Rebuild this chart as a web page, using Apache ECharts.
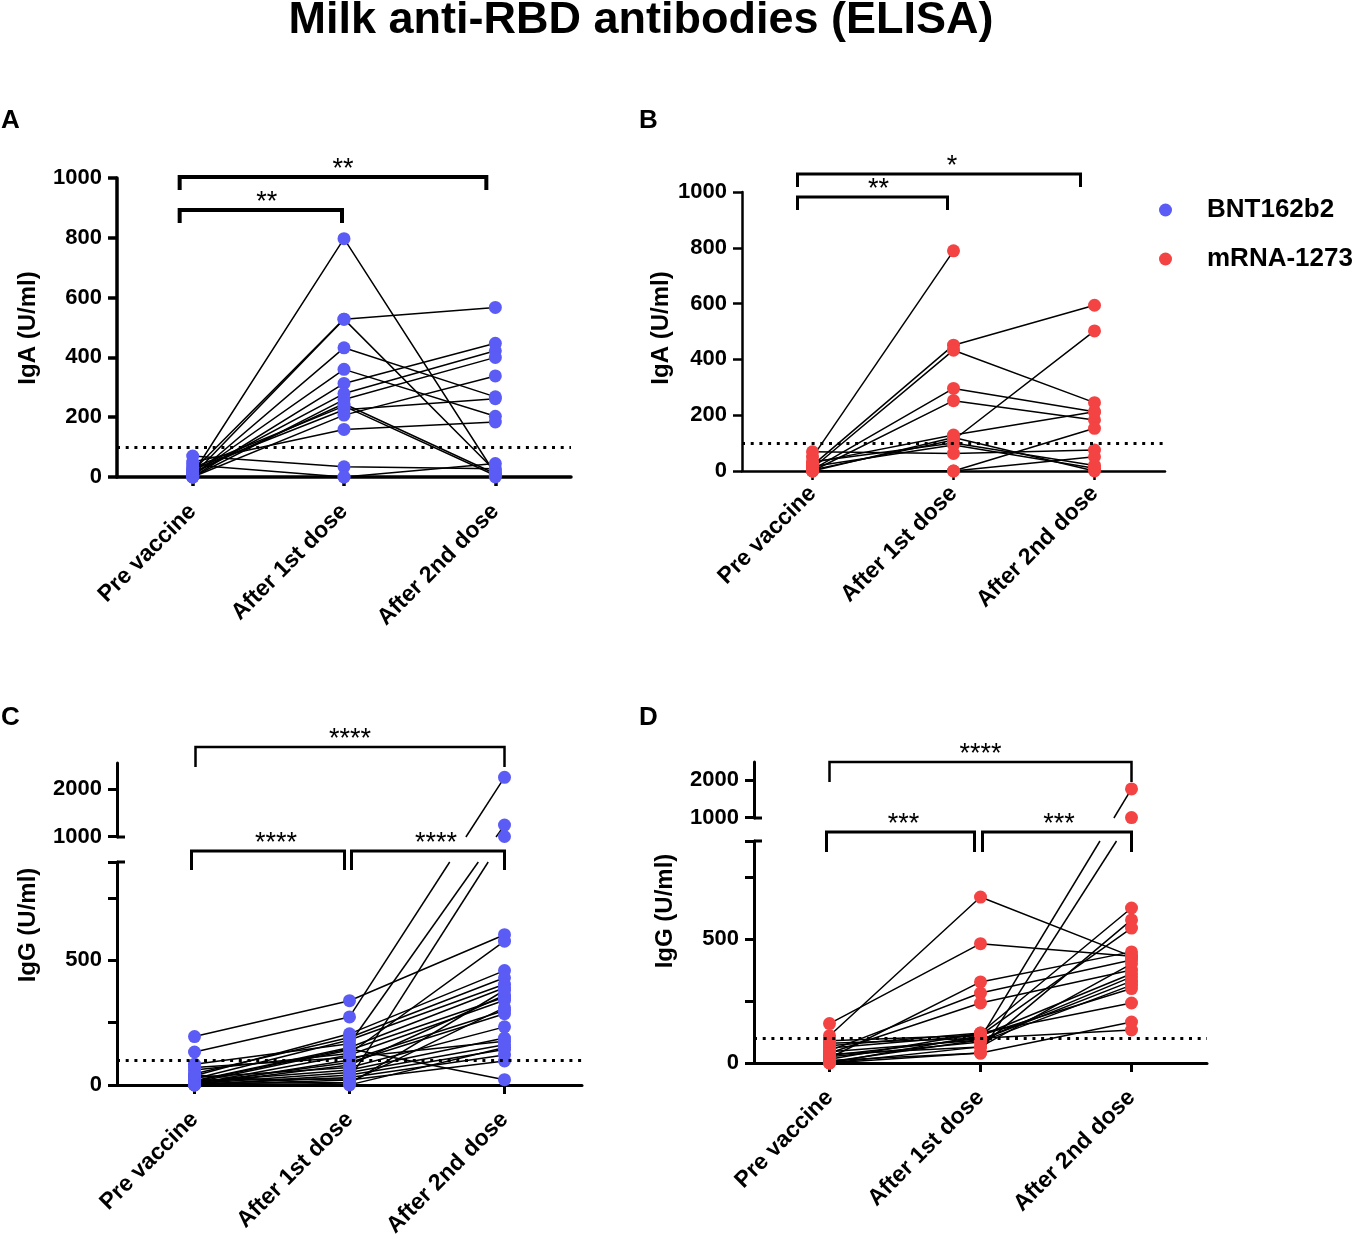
<!DOCTYPE html>
<html><head><meta charset="utf-8">
<script src="https://cdn.jsdelivr.net/npm/echarts@6/dist/echarts.min.js"></script>
<style>html,body{margin:0;padding:0;background:#fff}#c{width:1357px;height:1240px}</style>
</head><body><div id="c"></div>
<script>
// ---------------- data ----------------
const categories = ['Pre vaccine', 'After 1st dose', 'After 2nd dose'];
const seriesNames = ['BNT162b2', 'mRNA-1273'];
const limitValue = 100;
const igaTicks = [0, 200, 400, 600, 800, 1000];
const iggLowerTicks = [0, 250, 500, 750];
const iggLowerLabels = [0, 500];
const iggUpperTicks = [1000, 2000];

// each row = one participant: [Pre vaccine, After 1st dose, After 2nd dose]  (U/ml)
const igaBNT = [
  [10, 797, 10], [20, 528, 567], [5, 528, 20], [0, 432, 268], [5, 360, 203],
  [0, 313, 447], [10, 279, 422], [0, 259, 400], [30, 237, 5], [0, 207, 338],
  [50, 159, 184], [70, 34, 28], [0, 0, 0], [40, 0, 45], [25, 225, 262], [15, 245, 11]
];
const igaMRNA = [
  [50, 789, null], [20, 451, 594], [10, 433, 245], [5, 296, 212], [0, 252, 183],
  [4, 111, 502], [30, 129, 212], [0, 120, 0], [16, 93, 10], [69, 63, 75],
  [0, 0, 51], [0, 0, 153], [33, 100, 20]
];
const iggBNT = [
  [194, 338, 603], [132, 273, 2240], [83, 165, 1240], [20, 24, 1000], [60, 126, 577],
  [37, 205, 459], [45, 190, 430], [25, 180, 404], [17, 150, 390], [10, 140, 352],
  [4, 120, 340], [0, 100, 299], [8, 90, 286], [2, 80, 360], [30, 70, 233],
  [12, 60, 188], [5, 50, 161], [0, 40, 142], [3, 30, 120], [0, 20, 96],
  [15, 145, 21], [6, 10, 310], [0, 5, 380], [70, 110, 175], [40, 0, 150]
];
const iggMRNA = [
  [110, 669, 430], [159, 481, 430], [30, 100, 1760], [10, 40, 1000], [20, 327, 448],
  [50, 282, 415], [40, 242, 375], [15, 121, 625], [0, 65, 577], [60, 112, 544],
  [5, 93, 347], [80, 100, 133], [0, 40, 165], [25, 85, 314], [70, 121, 242],
  [35, 65, 400], [0, 110, 360], [45, 93, 330], [90, 112, 300]
];

// ---------------- styling / layout ----------------
const FONT = '"Liberation Sans", Arial, Helvetica, sans-serif';
const BLUE = '#5b5bf5';
const RED = '#f44343';
const LOWER_MAX = 895;
const UPPER_C = [990, 2540];
const UPPER_D = [990, 2474];

const grids = [
  {left: 117, top: 178, width: 454, height: 299},
  {left: 742, top: 192, width: 423, height: 279},
  {left: 117, top: 862, width: 465, height: 227},
  {left: 117, top: 763, width: 465, height: 74},
  {left: 754, top: 841, width: 453, height: 222},
  {left: 754, top: 762, width: 453, height: 56}
];

function xAx(i, show, w, margin) {
  return {
    type: 'category', gridIndex: i, data: categories, show: show, boundaryGap: true,
    axisLine: {show: true, onZero: false, lineStyle: {color: '#000', width: w}},
    axisTick: {show: true, alignWithLabel: true, length: 9, lineStyle: {color: '#000', width: w}},
    axisLabel: {show: true, rotate: 45, margin: margin, interval: 0, color: '#000', fontSize: 23, fontWeight: 'bold', fontFamily: FONT},
    splitLine: {show: false}
  };
}
function yAx(i, min, max, w, ticks, labels) {
  return {
    type: 'value', gridIndex: i, min: min, max: max,
    axisLine: {show: true, lineStyle: {color: '#000', width: w}},
    axisTick: {show: true, length: 9, lineStyle: {color: '#000', width: w}, customValues: ticks},
    axisLabel: {color: '#000', fontSize: 22, fontWeight: 'bold', fontFamily: FONT, margin: 15,
      customValues: labels, formatter: v => String(v)},
    splitLine: {show: false}
  };
}

const xAxis = [xAx(0, true, 3.5, 31), xAx(1, true, 2.5, 19), xAx(2, true, 3, 31), xAx(3, false, 3, 31), xAx(4, true, 3, 31), xAx(5, false, 3, 31)];
const yAxis = [
  yAx(0, 0, 1000, 3.5, igaTicks, igaTicks),
  yAx(1, 0, 1000, 2.5, igaTicks, igaTicks),
  yAx(2, 0, LOWER_MAX, 3, iggLowerTicks.concat([LOWER_MAX]), iggLowerLabels),
  yAx(3, UPPER_C[0], UPPER_C[1], 3, iggUpperTicks, iggUpperTicks),
  yAx(4, 0, LOWER_MAX, 3, iggLowerTicks.concat([LOWER_MAX]), iggLowerLabels),
  yAx(5, UPPER_D[0], UPPER_D[1], 3, iggUpperTicks, iggUpperTicks)
];

const series = [];
function addPanel(rows, gLow, gUp, color, name) {
  rows.forEach(r => series.push({
    type: 'line', xAxisIndex: gLow, yAxisIndex: gLow, silent: true, z: 2,
    data: r.map(v => (v == null || (gUp != null && v > LOWER_MAX)) ? null : v),
    symbol: 'none', connectNulls: false, lineStyle: {color: '#000', width: 1.5}
  }));
  const low = [], up = [];
  rows.forEach(r => r.forEach((v, j) => {
    if (v == null) return;
    if (gUp != null && v > LOWER_MAX) up.push([j, v]); else low.push([j, v]);
  }));
  series.push({
    type: 'scatter', name: name, xAxisIndex: gLow, yAxisIndex: gLow, data: low, z: 3,
    symbolSize: 13, itemStyle: {color: color, opacity: 1}, silent: true,
    markLine: {silent: true, symbol: 'none', label: {show: false}, animation: false,
      lineStyle: {type: [3, 5.7], color: '#000', width: 3}, data: [{yAxis: limitValue}]}
  });
  if (gUp != null) series.push({
    type: 'scatter', name: name, xAxisIndex: gUp, yAxisIndex: gUp, data: up, z: 3,
    symbolSize: 13, itemStyle: {color: color, opacity: 1}, silent: true
  });
}
addPanel(igaBNT, 0, null, BLUE, seriesNames[0]);
addPanel(igaMRNA, 1, null, RED, seriesNames[1]);
addPanel(iggBNT, 2, 3, BLUE, seriesNames[0]);
addPanel(iggMRNA, 4, 5, RED, seriesNames[1]);

const chart = echarts.init(document.getElementById('c'));
chart.setOption({
  animation: false,
  backgroundColor: '#fff',
  grid: grids,
  xAxis: xAxis,
  yAxis: yAxis,
  legend: {
    data: seriesNames, orient: 'vertical', left: 1159, top: 195, padding: 0, icon: 'circle',
    itemWidth: 13, itemHeight: 13, itemGap: 19, selectedMode: false,
    textStyle: {fontSize: 26, fontWeight: 'bold', fontFamily: FONT, color: '#000', lineHeight: 30, padding: [0, 0, 0, 30]}
  },
  series: series
});

// ---------------- annotations ----------------
const g = [];
function txt(text, x, y, size, weight, align, vAlign, rot) {
  g.push({type: 'text', x: x, y: y, rotation: rot || 0, z: 10, silent: true,
    style: {text: text, fill: '#000', font: `${weight} ${size}px ${FONT}`,
      textAlign: align, textVerticalAlign: vAlign, align: align, verticalAlign: vAlign}});
}
txt('Milk anti-RBD antibodies (ELISA)', 641, 21, 45, 'bold', 'center', 'middle');
txt('A', 1, 121, 26, 'bold', 'left', 'middle');
txt('B', 639, 121, 26, 'bold', 'left', 'middle');
txt('C', 1, 718, 26, 'bold', 'left', 'middle');
txt('D', 639, 718, 26, 'bold', 'left', 'middle');
txt('IgA (U/ml)', 28, 328, 24, 'bold', 'center', 'middle', Math.PI / 2);
txt('IgA (U/ml)', 661, 328, 24, 'bold', 'center', 'middle', Math.PI / 2);
txt('IgG (U/ml)', 28, 925, 24, 'bold', 'center', 'middle', Math.PI / 2);
txt('IgG (U/ml)', 665, 911, 24, 'bold', 'center', 'middle', Math.PI / 2);

function px(gi, cat, val) { return chart.convertToPixel({xAxisIndex: gi, yAxisIndex: gi}, [cat, val]); }

// significance brackets: [grid, fromCat, toCat, dxFrom, dxTo, topY, legHeight, lineWidth, stars, textDx]
const brackets = [
  [0, 0, 1, -13, -2, 210, 13, 4, '**', 6],
  [0, 0, 2, -13, -9, 177, 13, 4, '**', 10],
  [1, 0, 1, -15, -6, 197, 13, 3, '**', 6],
  [1, 0, 2, -15, -14, 174, 13, 3, '*', 13],
  [2, 0, 2, 1, 0, 747, 20, 2.5, '****', 0],
  [2, 0, 1, -3, -5, 851, 19, 3, '****', 8],
  [2, 1, 2, 2, 0, 851, 19, 3, '****', 8],
  [4, 0, 2, 0, 0, 762, 20, 2.5, '****', 0],
  [4, 0, 1, -3, -6, 832, 20, 3, '***', 3],
  [4, 1, 2, 2, 0, 832, 20, 3, '***', 2]
];
brackets.forEach(b => {
  const x1 = px(b[0], b[1], 0)[0] + b[3];
  const x2 = px(b[0], b[2], 0)[0] + b[4];
  const y = b[5], h = b[6];
  g.push({type: 'polyline', z: 10, silent: true,
    shape: {points: [[x1, y + h], [x1, y], [x2, y], [x2, y + h]]},
    style: {stroke: '#000', lineWidth: b[7], fill: null, lineJoin: 'miter'}});
  txt(b[8], (x1 + x2) / 2 + b[9], y - 7, 27, 'normal', 'center', 'middle');
});

// segments crossing the axis break (lower scale -> upper scale)
function crossing(rows, gLow, gUp, upMin) {
  const yTop = px(gLow, 0, LOWER_MAX)[1];
  const yBot = px(gUp, 0, upMin)[1];
  rows.forEach(r => {
    for (let j = 1; j < r.length; j++) {
      const a = r[j - 1], b = r[j];
      if (a == null || b == null) continue;
      if ((a > LOWER_MAX) === (b > LOWER_MAX)) continue;
      const p1 = px(gLow, j - 1, a), p2 = px(gUp, j, b);
      const t1 = (p1[1] - yTop) / (p1[1] - p2[1]);
      const t2 = (p1[1] - yBot) / (p1[1] - p2[1]);
      const lerp = t => [p1[0] + (p2[0] - p1[0]) * t, p1[1] + (p2[1] - p1[1]) * t];
      const q1 = lerp(t1), q2 = lerp(t2);
      [[p1, q1], [q2, p2]].forEach(s => g.push({type: 'line', z: 2, silent: true,
        shape: {x1: s[0][0], y1: s[0][1], x2: s[1][0], y2: s[1][1]},
        style: {stroke: '#000', lineWidth: 1.5}}));
    }
  });
  // break marks extending right of the axis
  const ax = px(gLow, 0, 0)[0] - (px(gLow, 1, 0)[0] - px(gLow, 0, 0)[0]) / 2;
  [yTop, yBot].forEach(y => g.push({type: 'line', z: 5, silent: true,
    shape: {x1: ax, y1: y, x2: ax + 8, y2: y}, style: {stroke: '#000', lineWidth: 3}}));
}
crossing(iggBNT, 2, 3, UPPER_C[0]);
crossing(iggMRNA, 4, 5, UPPER_D[0]);

chart.setOption({graphic: {elements: g}});
</script>
</body></html>
